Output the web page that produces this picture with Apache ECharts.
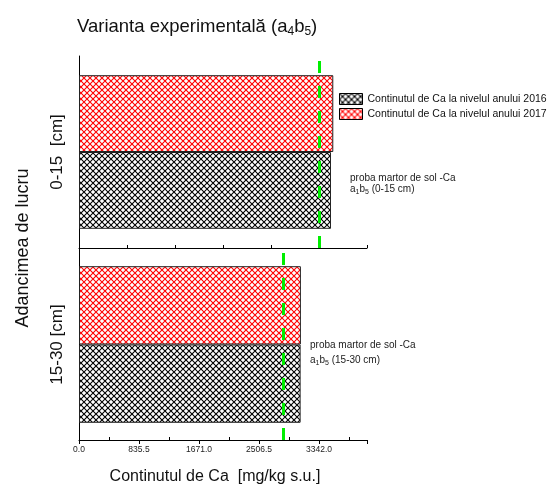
<!DOCTYPE html>
<html>
<head>
<meta charset="utf-8">
<script src="https://cdn.jsdelivr.net/npm/echarts@6/dist/echarts.min.js"></script>
<style>
  html, body { margin: 0; padding: 0; background: #fff; }
  #chart { width: 547px; height: 486px; }
</style>
</head>
<body>
<div id="chart"></div>
<script>
// Depth layers (one panel each)
const depthTop = ['0-15  [cm]'];
const depthBottom = ['15-30 [cm]'];
// Ca content [mg/kg s.u.] for each layer: [0-15, 15-30]
const ca2016 = [3509, 3086];
const ca2017 = [3541, 3090];
// Control soil sample a1b5 for each layer
const controlCa = [3350, 2844];
// Value axis ticks
const axisMax = 4010.4;
const labelStep = 835.5;
const topStep = 668.4;

const FONT = '"Liberation Sans", Arial, sans-serif';

function hatch(color) {
  const s = 6;
  const c = document.createElement('canvas');
  c.width = s; c.height = s;
  const g = c.getContext('2d');
  g.fillStyle = '#fff';
  g.fillRect(0, 0, s, s);
  g.strokeStyle = color;
  g.lineWidth = 1.1;
  g.beginPath();
  g.moveTo(-1, -1); g.lineTo(s + 1, s + 1);
  g.moveTo(s + 1, -1); g.lineTo(-1, s + 1);
  g.stroke();
  return { image: c, repeat: 'repeat' };
}
const blackHatch = hatch('#000');
const redHatch = hatch('#ff0000');

// Text line with subscripts: parts = [[text, isSub], ...]
const measureCtx = document.createElement('canvas').getContext('2d');
function subscriptText(x, y, parts, size, subSize, drop, color) {
  const els = [];
  let cx = x;
  parts.forEach(([txt, sub]) => {
    const fs = sub ? subSize : size;
    measureCtx.font = fs + 'px ' + FONT;
    els.push({
      type: 'text', x: cx, y: sub ? y + drop : y, silent: true,
      style: { text: txt, fontFamily: FONT, fontSize: fs, fill: color, align: 'left', verticalAlign: 'middle' }
    });
    cx += measureCtx.measureText(txt).width;
  });
  return els;
}

const chart = echarts.init(document.getElementById('chart'), null, { renderer: 'canvas' });

const name2016 = 'Continutul de Ca la nivelul anului 2016';
const name2017 = 'Continutul de Ca la nivelul anului 2017';

function controlLine(v) {
  return {
    silent: true,
    symbol: 'none',
    label: { show: false },
    lineStyle: { color: '#00ee00', width: 3, type: [12, 13] },
    data: [{ xAxis: v }]
  };
}

const barStyle = (fill) => ({ color: fill, borderColor: '#222', borderWidth: 1 });

const axisLineStyle = { show: true, onZero: false, lineStyle: { color: '#000', width: 1 } };

const option = {
  backgroundColor: '#fff',
  animation: false,
  legend: {
    orient: 'vertical',
    left: 339, top: 93,
    padding: 0,
    itemWidth: 23, itemHeight: 11, itemGap: 3,
    icon: 'rect',
    data: [name2016, name2017],
    textStyle: { fontFamily: FONT, fontSize: 10.5, color: '#111' },
    itemStyle: { borderColor: '#000', borderWidth: 1 }
  },
  grid: [
    { left: 79, top: 56, width: 288, height: 192 },
    { left: 79, top: 249, width: 288, height: 193 }
  ],
  xAxis: [
    {
      gridIndex: 0, type: 'value', min: 0, max: axisMax, interval: topStep,
      axisLine: axisLineStyle,
      axisTick: { show: true, inside: true, length: 3, lineStyle: { color: '#000' } },
      axisLabel: { show: false },
      splitLine: { show: false }
    },
    {
      gridIndex: 1, type: 'value', min: 0, max: axisMax, interval: labelStep,
      axisLine: axisLineStyle,
      axisTick: { show: true, length: 4, lineStyle: { color: '#000' } },
      minorTick: { show: true, splitNumber: 2, length: -3, lineStyle: { color: '#000' } },
      axisLabel: {
        fontFamily: FONT, fontSize: 8.5, color: '#222', margin: 5,
        showMaxLabel: false,
        formatter: (v) => v.toFixed(1)
      },
      splitLine: { show: false },
      name: 'Continutul de Ca  [mg/kg s.u.]',
      nameLocation: 'middle',
      nameGap: 29,
      nameTextStyle: { fontFamily: FONT, fontSize: 16, color: '#111', padding: [0, 16, 0, 0] }
    }
  ],
  yAxis: [
    {
      gridIndex: 0, type: 'category', data: depthTop,
      axisLine: axisLineStyle,
      axisTick: { alignWithLabel: true, length: 4, lineStyle: { color: '#000' } },
      axisLabel: { rotate: 90, fontFamily: FONT, fontSize: 17, color: '#111', margin: 13 }
    },
    {
      gridIndex: 1, type: 'category', data: depthBottom,
      axisLine: axisLineStyle,
      axisTick: { alignWithLabel: true, length: 4, lineStyle: { color: '#000' } },
      axisLabel: { rotate: 90, fontFamily: FONT, fontSize: 17, color: '#111', margin: 13 }
    }
  ],
  series: [
    {
      name: name2017, type: 'bar', xAxisIndex: 0, yAxisIndex: 0,
      data: [ca2017[0]], barGap: '0%', barCategoryGap: '20%',
      itemStyle: barStyle(redHatch)
    },
    {
      name: name2016, type: 'bar', xAxisIndex: 0, yAxisIndex: 0,
      data: [ca2016[0]], barGap: '0%', barCategoryGap: '20%',
      itemStyle: barStyle(blackHatch),
      markLine: controlLine(controlCa[0])
    },
    {
      name: name2017, type: 'bar', xAxisIndex: 1, yAxisIndex: 1,
      data: [ca2017[1]], barGap: '0%', barCategoryGap: '18%',
      itemStyle: barStyle(redHatch)
    },
    {
      name: name2016, type: 'bar', xAxisIndex: 1, yAxisIndex: 1,
      data: [ca2016[1]], barGap: '0%', barCategoryGap: '18%',
      itemStyle: barStyle(blackHatch),
      markLine: controlLine(controlCa[1])
    }
  ],
  graphic: [
    // chart title
    ...subscriptText(77, 27,
      [['Varianta experimentală (a', false], ['4', true], ['b', false], ['5', true], [')', false]],
      18.5, 12, 5, '#111'),
    // vertical axis title
    {
      type: 'text',
      x: 23, y: 248,
      rotation: Math.PI / 2,
      style: {
        text: 'Adancimea de lucru', fontFamily: FONT, fontSize: 18, fill: '#111',
        align: 'center', verticalAlign: 'middle'
      }
    },
    // control sample notes
    {
      type: 'text', x: 350, y: 178,
      style: { text: 'proba martor de sol -Ca', fontFamily: FONT, fontSize: 10, fill: '#222', verticalAlign: 'middle' }
    },
    ...subscriptText(350, 189,
      [['a', false], ['1', true], ['b', false], ['5', true], [' (0-15 cm)', false]],
      10, 7, 3, '#222'),
    {
      type: 'text', x: 310, y: 345,
      style: { text: 'proba martor de sol -Ca', fontFamily: FONT, fontSize: 10, fill: '#222', verticalAlign: 'middle' }
    },
    ...subscriptText(310, 360,
      [['a', false], ['1', true], ['b', false], ['5', true], [' (15-30 cm)', false]],
      10, 7, 3, '#222')
  ]
};

chart.setOption(option);
</script>
</body>
</html>
